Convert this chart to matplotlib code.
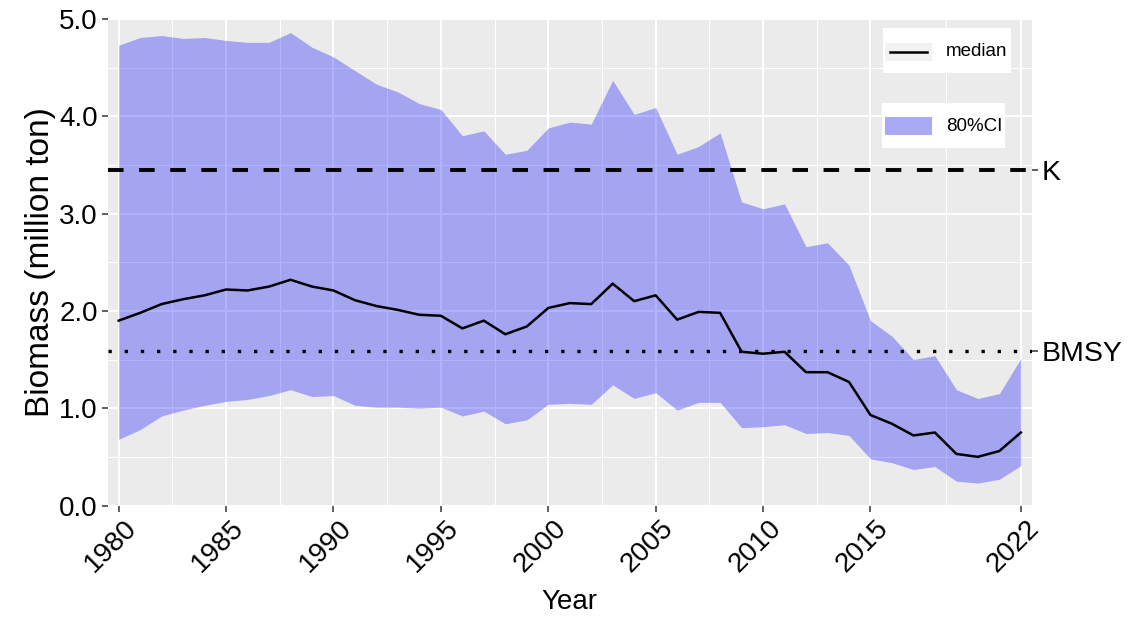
import numpy as np
import matplotlib
matplotlib.use("Agg")
import matplotlib.pyplot as plt
import matplotlib.transforms as mtransforms
from matplotlib.patches import Rectangle
from matplotlib.lines import Line2D

plt.rcParams['font.family'] = ['Liberation Sans', 'DejaVu Sans']

years = np.arange(1980, 2023)

median = [1.90, 1.98, 2.07, 2.12, 2.16, 2.22, 2.21, 2.25, 2.32, 2.25,
          2.21, 2.11, 2.05, 2.01, 1.96, 1.95, 1.82, 1.90, 1.76, 1.84,
          2.03, 2.08, 2.07, 2.28, 2.10, 2.16, 1.91, 1.99, 1.98, 1.58,
          1.56, 1.58, 1.37, 1.37, 1.27, 0.93, 0.84, 0.72, 0.75, 0.53,
          0.50, 0.56, 0.75]
lower = [0.68, 0.78, 0.92, 0.98, 1.03, 1.07, 1.09, 1.13, 1.19, 1.12,
         1.13, 1.03, 1.01, 1.01, 1.00, 1.01, 0.92, 0.97, 0.84, 0.88,
         1.04, 1.05, 1.04, 1.24, 1.10, 1.16, 0.98, 1.06, 1.06, 0.80,
         0.81, 0.83, 0.74, 0.75, 0.72, 0.48, 0.44, 0.37, 0.40, 0.25,
         0.23, 0.27, 0.41]
upper = [4.73, 4.81, 4.83, 4.80, 4.81, 4.78, 4.76, 4.76, 4.86, 4.71,
         4.61, 4.47, 4.33, 4.25, 4.13, 4.07, 3.80, 3.85, 3.61, 3.65,
         3.88, 3.94, 3.92, 4.37, 4.02, 4.09, 3.61, 3.69, 3.83, 3.12,
         3.05, 3.10, 2.66, 2.70, 2.47, 1.90, 1.74, 1.50, 1.54, 1.19,
         1.10, 1.15, 1.51]

K = 3.45
BMSY = 1.59

x_breaks = [1980, 1985, 1990, 1995, 2000, 2005, 2010, 2015, 2022]
y_breaks = [0, 1, 2, 3, 4, 5]

W, H = 1133, 619
fig = plt.figure(figsize=(W / 100, H / 100), dpi=100)
ax = fig.add_axes([107.5 / W, 1 - 505.5 / H, (1032 - 107.5) / W, (505.5 - 19) / H])
ax.set_facecolor('#EBEBEB')
for s in ax.spines.values():
    s.set_visible(False)

ax.set_xlim(1979.48, 2022.52)
ax.set_ylim(0, 5)

# grid like ggplot: major + minor midway
for xb in x_breaks:
    ax.axvline(xb, color='white', lw=1.45, zorder=0.5)
for a, b in zip(x_breaks[:-1], x_breaks[1:]):
    ax.axvline((a + b) / 2, color='white', lw=0.75, zorder=0.5)
for yb in y_breaks:
    ax.axhline(yb, color='white', lw=1.45, zorder=0.5)
for a, b in zip(y_breaks[:-1], y_breaks[1:]):
    ax.axhline((a + b) / 2, color='white', lw=0.75, zorder=0.5)

ax.fill_between(years, lower, upper, color='blue', alpha=0.3, lw=0, zorder=1)
ax.plot(years, median, color='black', lw=1.8, zorder=3)
ax.axhline(K, color='black', lw=2.8, dashes=(4, 4), zorder=2)
ax.axhline(BMSY, color='black', lw=2.4, dashes=(1, 3.85), zorder=2)

ax.set_xticks(x_breaks)
ax.set_xticklabels([str(v) for v in x_breaks], rotation=45, ha='right', va='top',
                   rotation_mode='anchor', fontsize=20)
ax.set_yticks(y_breaks)
ax.set_yticklabels(['%.1f' % v for v in y_breaks], fontsize=20)
ax.tick_params(axis='both', length=4.5, width=1.1, color='#333333', pad=2.5)
# nudge rotated year labels right a bit (after tick_params, which resets transforms)
shift = mtransforms.ScaledTranslation(5 / 100, 0, fig.dpi_scale_trans)
for lab in ax.get_xticklabels():
    lab.set_transform(lab.get_transform() + shift)

sec = ax.secondary_yaxis('right')
sec.set_yticks([K, BMSY])
sec.set_yticklabels(['K', 'BMSY'], fontsize=20.5)
sec.tick_params(length=4.5, width=1.1, color='#333333', pad=2.5)
for s in sec.spines.values():
    s.set_visible(False)

ax.set_xlabel('Year', fontsize=20, labelpad=8)
ax.set_ylabel('Biomass (million ton)', fontsize=24, labelpad=2)

# legends: two separate white boxes, drawn in pixel positions
def px(x, y):
    return x / W, 1 - y / H

def legend_box(x0, y0, x1, y1):
    fig.add_artist(Rectangle(px(x0, y1), (x1 - x0) / W, (y1 - y0) / H,
                             transform=fig.transFigure, facecolor='white',
                             edgecolor='none', zorder=5))

legend_box(883, 28, 1011, 73)
fig.add_artist(Rectangle(px(885, 61), 47 / W, 18 / H, transform=fig.transFigure,
                         facecolor='#F2F2F2', edgecolor='none', zorder=6))
fig.add_artist(Line2D([890 / W, 927 / W], [1 - 52 / H, 1 - 52 / H],
                      transform=fig.transFigure, color='black', lw=1.8, zorder=7))
fig.text(946 / W, 1 - 52 / H, 'median', fontsize=13.5, va='center', ha='left', zorder=7)

legend_box(882, 103, 1005, 148)
fig.add_artist(Rectangle(px(885, 135), 47 / W, 18 / H, transform=fig.transFigure,
                         facecolor='#F2F2F2', edgecolor='none', zorder=6))
fig.add_artist(Rectangle(px(885, 135), 47 / W, 18 / H, transform=fig.transFigure,
                         facecolor='blue', alpha=0.3, edgecolor='none', zorder=7))
fig.text(946 / W, 1 - 126 / H, '80%CI', fontsize=13.5, va='center', ha='left', zorder=7)

fig.savefig('out.png', dpi=100)
